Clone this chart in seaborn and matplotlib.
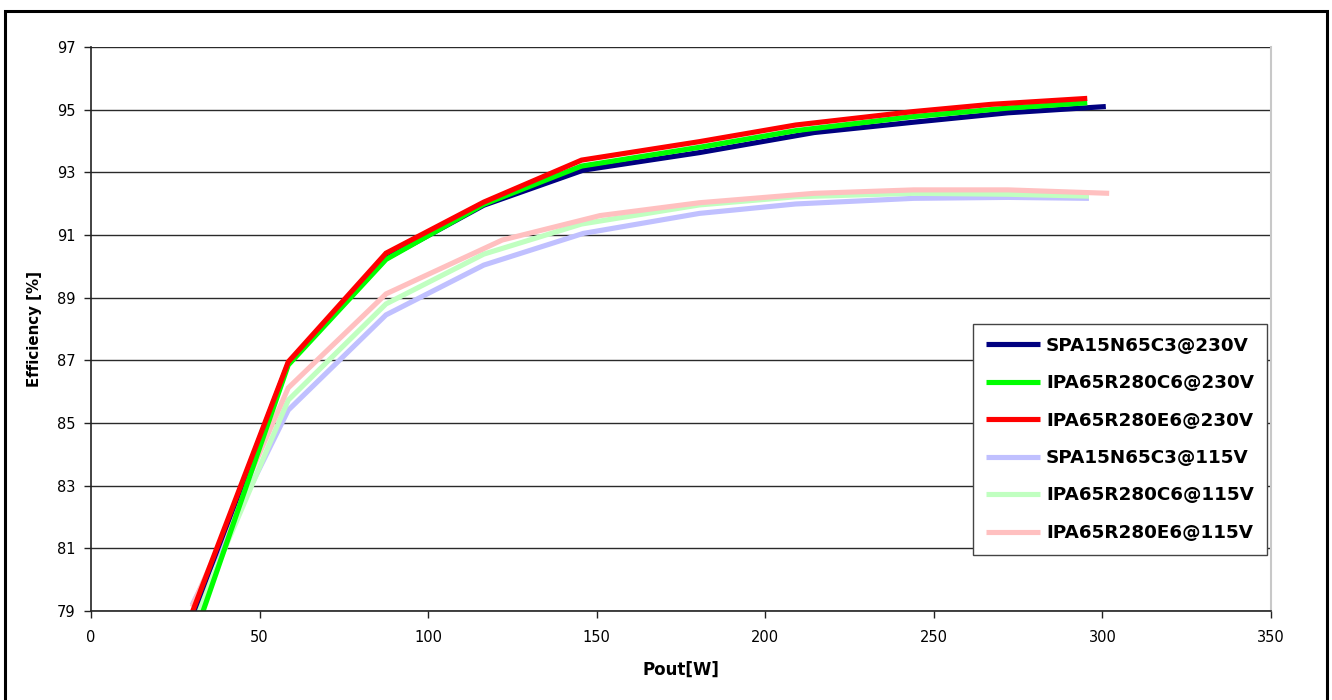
import matplotlib
matplotlib.use("Agg")
import matplotlib.pyplot as plt
import matplotlib.patches as mpatches
import numpy as np
import pandas as pd
import seaborn as sns

# Efficiency vs output power for three MOSFETs at two line voltages
series_names = [
    "SPA15N65C3@230V",
    "IPA65R280C6@230V",
    "IPA65R280E6@230V",
    "SPA15N65C3@115V",
    "IPA65R280C6@115V",
    "IPA65R280E6@115V",
]

pout_spa_230 = [30, 58.5, 87.5, 116.5, 146, 180.5, 214.5, 244, 272, 301]
eff_spa_230 = [78.85, 86.9, 90.25, 91.95, 93.07, 93.63, 94.27, 94.6, 94.9, 95.1]

pout_c6_230 = [31, 58.5, 87.5, 116.5, 145.5, 180.5, 209, 244, 272, 295.5]
eff_c6_230 = [78.3, 86.85, 90.22, 91.98, 93.2, 93.8, 94.33, 94.78, 95.05, 95.22]

pout_e6_230 = [30, 58.5, 87.5, 116.5, 145.5, 180.5, 209, 244, 267, 295.5]
eff_e6_230 = [78.95, 86.95, 90.42, 92.05, 93.39, 93.98, 94.51, 94.94, 95.17, 95.36]

pout_spa_115 = [30, 58.5, 87.5, 116.5, 146, 180.5, 209, 244, 272, 296]
eff_spa_115 = [79.19, 85.41, 88.45, 90.04, 91.05, 91.69, 91.99, 92.17, 92.2, 92.17]

pout_c6_115 = [30, 58.5, 87.5, 116.5, 145.5, 180.5, 209, 244, 272, 296]
eff_c6_115 = [78.55, 85.73, 88.80, 90.39, 91.35, 91.96, 92.22, 92.33, 92.3, 92.24]

pout_e6_115 = [30, 58.5, 87.5, 122, 151, 180.5, 214.5, 244, 272, 302]
eff_e6_115 = [79.13, 86.12, 89.12, 90.84, 91.62, 92.03, 92.33, 92.44, 92.44, 92.33]

series_colors = ["#000080", "#00FF00", "#FF0000", "#C0C0FF", "#C0FFC0", "#FFC0C0"]

x_ticks = [0, 50, 100, 150, 200, 250, 300, 350]
y_ticks = [79, 81, 83, 85, 87, 89, 91, 93, 95, 97]

pouts = [pout_spa_230, pout_c6_230, pout_e6_230, pout_spa_115, pout_c6_115, pout_e6_115]
effs = [eff_spa_230, eff_c6_230, eff_e6_230, eff_spa_115, eff_c6_115, eff_e6_115]

frames = []
for name, xs, ys in zip(series_names, pouts, effs):
    frames.append(pd.DataFrame({"Pout": xs, "Efficiency": ys, "series": name}))
df = pd.concat(frames, ignore_index=True)

sns.set_theme(style="white")
plt.rcParams["font.family"] = ["DejaVu Sans"]
plt.rcParams["text.color"] = "black"
plt.rcParams["axes.labelcolor"] = "black"

fig = plt.figure(figsize=(13.32, 7.0), dpi=100)
ax = fig.add_axes([91 / 1332, 1 - 611 / 700, 1180 / 1332, 564 / 700])

sns.lineplot(
    data=df, x="Pout", y="Efficiency", hue="series", hue_order=series_names,
    palette=series_colors, linewidth=3.7, sort=False, estimator=None,
    legend=False, ax=ax,
)

# the 115 V curves sit underneath the 230 V curves
for i, line in enumerate(ax.lines):
    line.set_solid_joinstyle("miter")
    line.set_solid_capstyle("butt")
    if i >= 3:
        line.set_zorder(1.9)

ax.set_xlim(0, 350)
ax.set_ylim(79, 97)
ax.set_xticks(x_ticks)
ax.set_yticks(y_ticks)
ax.set_xticklabels([str(v) for v in x_ticks], fontsize=10.5)
ax.set_yticklabels([str(v) for v in y_ticks], fontsize=10.5)
ax.tick_params(axis="both", direction="out", length=5, width=1, color="#222222",
               labelcolor="black")
ax.tick_params(axis="x", bottom=True, pad=9)
ax.tick_params(axis="y", left=True, pad=6)

ax.grid(axis="y", color="#2a2a2a", linewidth=1.0)
ax.grid(axis="x", visible=False)
ax.set_axisbelow(True)

for side in ["left", "bottom"]:
    ax.spines[side].set_color("#222222")
    ax.spines[side].set_linewidth(1.2)
ax.spines["top"].set_visible(False)
ax.spines["right"].set_color("#c8c8c8")
ax.spines["right"].set_linewidth(1.5)

ax.set_xlabel("Pout[W]", fontsize=12, fontweight="bold", labelpad=11)
ax.set_ylabel("Efficiency [%]", fontsize=10.8, fontweight="bold", labelpad=11)

handles = [
    plt.Line2D([], [], color=c, linewidth=3.7, solid_capstyle="butt")
    for c in series_colors
]
leg = ax.legend(
    handles, series_names, loc="upper left",
    bbox_to_anchor=(0.7475, 0.509), borderaxespad=0,
    frameon=True, fancybox=False, framealpha=1, edgecolor="#444444",
    prop={"weight": "bold", "size": 13.2}, handlelength=2.95,
    handletextpad=0.33, labelspacing=1.06, borderpad=0.7,
)
leg.get_frame().set_linewidth(1.0)
for t in leg.get_texts():
    t.set_color("black")

# outer chart frame
fig.patches.append(mpatches.Rectangle(
    (5 / 1332, -0.05), 1322 / 1332, 1.05 - 11 / 700,
    transform=fig.transFigure, fill=False, edgecolor="black", linewidth=2.2,
))

fig.savefig("out.png", dpi=100, facecolor="white")
